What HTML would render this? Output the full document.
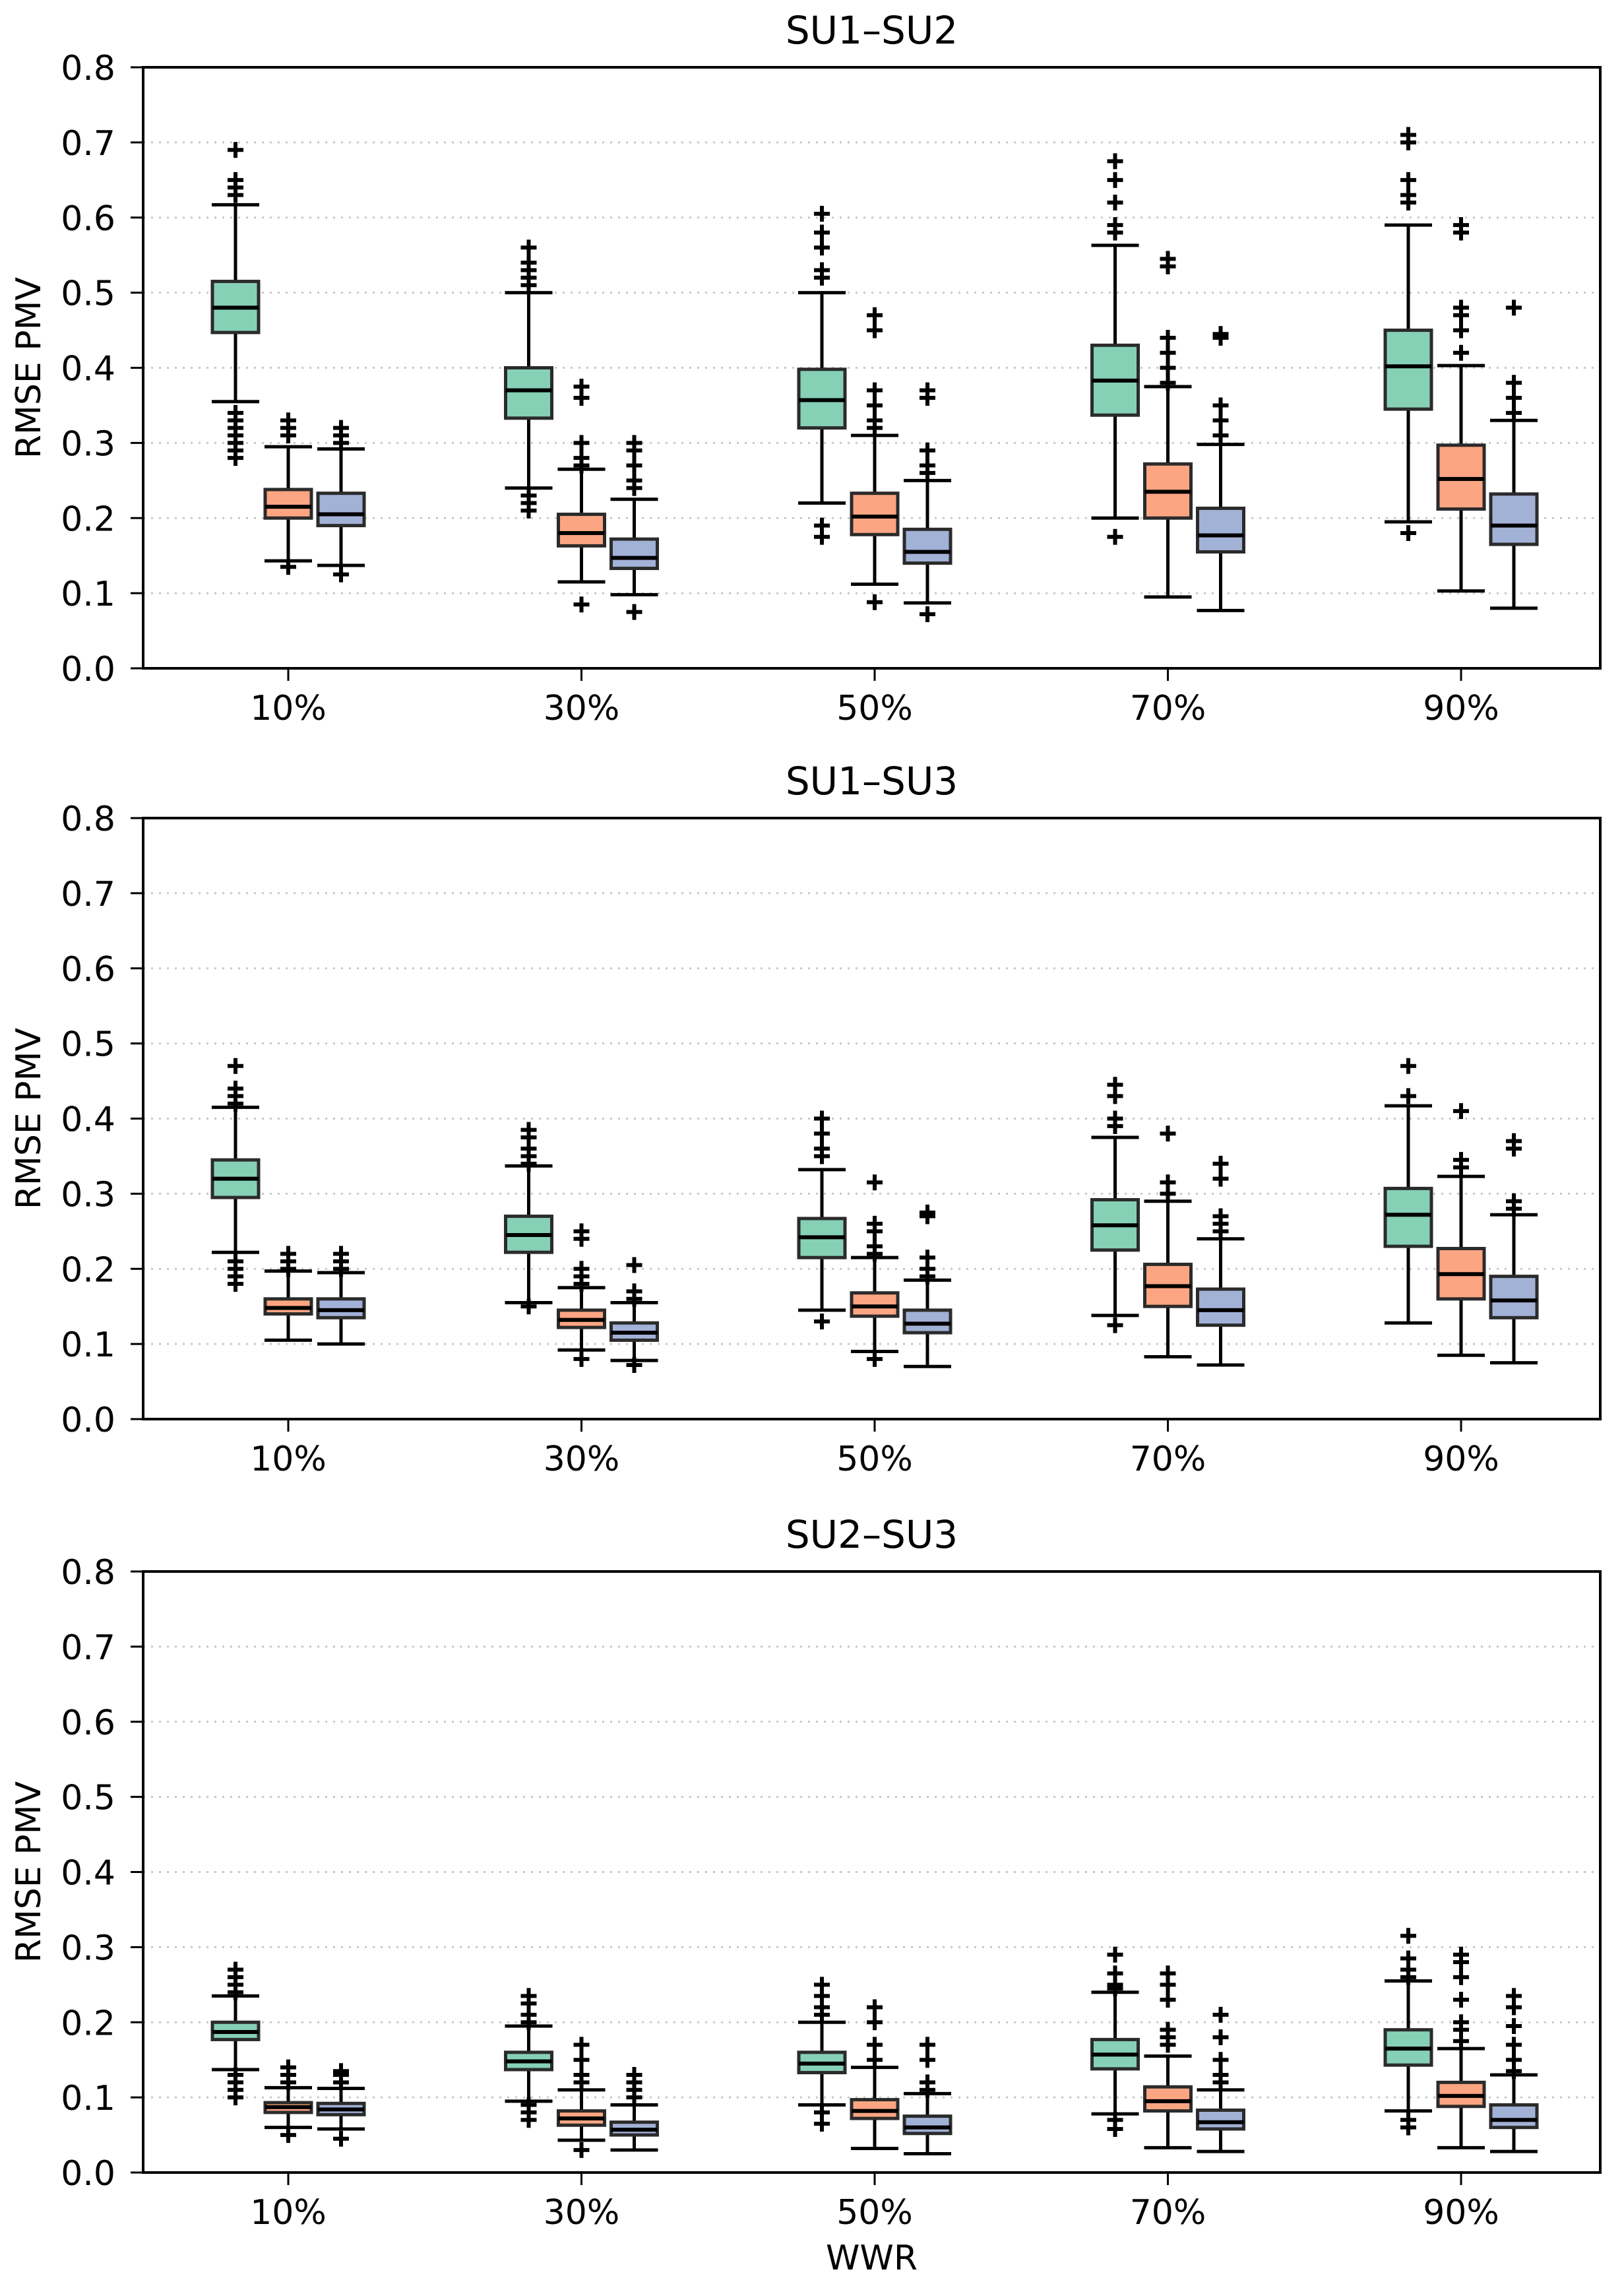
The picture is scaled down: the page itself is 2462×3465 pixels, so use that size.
<!DOCTYPE html>
<html><head><meta charset="utf-8"><style>
html,body{margin:0;padding:0;background:#fff;}
svg{display:block;font-family:"DejaVu Sans","Liberation Sans",sans-serif;}
</style></head><body>
<svg id="chart" width="2462" height="3465" viewBox="0 0 2462 3465" xmlns="http://www.w3.org/2000/svg"></svg>
<script>
const categories = ["10%","30%","50%","70%","90%"];
const titles = ["SU1–SU2","SU1–SU3","SU2–SU3"];
const yTicks = [0,0.1,0.2,0.3,0.4,0.5,0.6,0.7,0.8];
const yTickLabels = ["0.0","0.1","0.2","0.3","0.4","0.5","0.6","0.7","0.8"];
// each box: [whiskerLow, q1, median, q3, whiskerHigh]
const p1Green = [[.355,.447,.48,.515,.617],[.24,.333,.37,.40,.50],[.22,.32,.357,.398,.50],[.20,.337,.383,.43,.563],[.195,.345,.402,.45,.59]];
const p1Orange = [[.143,.20,.215,.238,.295],[.115,.163,.18,.205,.265],[.112,.178,.202,.233,.31],[.095,.20,.235,.272,.375],[.103,.212,.252,.297,.403]];
const p1Blue = [[.137,.19,.205,.233,.292],[.098,.133,.147,.172,.225],[.087,.14,.155,.185,.25],[.077,.155,.177,.213,.298],[.08,.165,.19,.232,.33]];
const p1GreenFliers = [[.64,.65,.63,.69,.34,.33,.32,.31,.30,.29,.28],[.51,.52,.53,.54,.56,.23,.22,.21],[.52,.53,.56,.58,.605,.19,.175],[.58,.59,.62,.65,.675,.175],[.62,.63,.65,.70,.71,.18]];
const p1OrangeFliers = [[.31,.32,.33,.135],[.27,.28,.30,.36,.375,.085],[.32,.33,.35,.37,.45,.47,.088],[.38,.40,.42,.44,.535,.545],[.42,.45,.47,.48,.58,.59]];
const p1BlueFliers = [[.30,.31,.32,.125],[.24,.25,.27,.29,.30,.075],[.26,.27,.29,.36,.37,.072],[.31,.33,.35,.44,.445],[.34,.36,.38,.48]];
const p2Green = [[.222,.295,.32,.345,.415],[.155,.222,.245,.27,.337],[.145,.215,.242,.267,.332],[.138,.225,.258,.292,.375],[.128,.23,.272,.307,.417]];
const p2Orange = [[.105,.14,.148,.16,.197],[.092,.122,.132,.145,.175],[.09,.137,.15,.168,.215],[.083,.15,.177,.206,.29],[.085,.16,.193,.227,.323]];
const p2Blue = [[.10,.135,.145,.16,.195],[.078,.105,.115,.128,.155],[.07,.115,.127,.145,.185],[.072,.125,.145,.173,.24],[.075,.135,.158,.19,.272]];
const p2GreenFliers = [[.42,.43,.44,.47,.21,.20,.19,.18],[.34,.35,.36,.375,.385,.15],[.35,.36,.38,.40,.13],[.39,.40,.43,.445,.125],[.43,.47]];
const p2OrangeFliers = [[.20,.21,.22],[.18,.19,.20,.24,.25,.08],[.22,.23,.25,.26,.315,.08],[.30,.315,.38],[.335,.345,.41]];
const p2BlueFliers = [[.20,.21,.22],[.16,.17,.205,.072],[.19,.20,.215,.27,.275],[.25,.26,.27,.32,.34],[.28,.29,.36,.37]];
const p3Green = [[.137,.177,.187,.20,.235],[.095,.137,.148,.16,.195],[.09,.133,.145,.16,.20],[.078,.138,.157,.177,.24],[.082,.143,.165,.19,.255]];
const p3Orange = [[.06,.08,.087,.093,.113],[.043,.063,.072,.082,.11],[.032,.072,.082,.097,.14],[.033,.082,.095,.114,.155],[.033,.088,.102,.12,.165]];
const p3Blue = [[.058,.077,.084,.092,.112],[.03,.05,.057,.067,.09],[.025,.052,.06,.075,.105],[.028,.058,.067,.083,.11],[.028,.06,.07,.09,.13]];
const p3GreenFliers = [[.24,.25,.26,.27,.13,.12,.11,.10],[.20,.21,.225,.235,.09,.08,.07],[.21,.22,.235,.25,.08,.065],[.245,.25,.265,.29,.07,.058],[.26,.27,.285,.315,.07,.06]];
const p3OrangeFliers = [[.12,.13,.14,.05],[.12,.13,.15,.17,.03],[.15,.17,.20,.22],[.17,.18,.19,.23,.25,.265],[.175,.19,.20,.23,.26,.28,.29]];
const p3BlueFliers = [[.12,.13,.135,.045],[.10,.11,.12,.13],[.11,.12,.15,.17],[.12,.13,.15,.18,.21],[.135,.15,.17,.195,.22,.235]];

const panels = [
  {boxes:[p1Green,p1Orange,p1Blue], fliers:[p1GreenFliers,p1OrangeFliers,p1BlueFliers]},
  {boxes:[p2Green,p2Orange,p2Blue], fliers:[p2GreenFliers,p2OrangeFliers,p2BlueFliers]},
  {boxes:[p3Green,p3Orange,p3Blue], fliers:[p3GreenFliers,p3OrangeFliers,p3BlueFliers]}
];
const seriesNames = ["green","orange","blue"];
const colors = ["#86d0b6","#fca582","#a2b1d6"];
const L=217, R=2426, PH=911, tops=[102,1240,2382], YMAX=0.8;
const NS="http://www.w3.org/2000/svg";
const svg=document.getElementById('chart');
function mk(tag, attrs, parent){const e=document.createElementNS(NS,tag);for(const k in attrs)e.setAttribute(k,attrs[k]);(parent||svg).appendChild(e);return e;}
function xScale(i){return 437+i*444.5;}
const offsets=[-80,0,80], BW=70, CAP=36;

panels.forEach((p,pi)=>{
  const top=tops[pi], bot=top+PH;
  const y=v=>bot-v/YMAX*PH;
  const g=mk('g',{});
  
  
  yTicks.forEach((t,ti)=>{
    if(ti>0&&ti<yTicks.length-1){
      const gl=mk('line',{x1:L,x2:R,y1:y(t),y2:y(t),stroke:'#c8c8c8','stroke-width':3,'stroke-dasharray':'3 9'},g);
      
      
    }
    const tk=mk('line',{x1:L-19,x2:L,y1:y(t),y2:y(t),stroke:'#000','stroke-width':3},g);
    
    
    const tl=mk('text',{x:175,y:y(t)+19,'text-anchor':'end','font-size':52,fill:'#000'},g);
    tl.textContent=yTickLabels[ti];
    
    
  });
  categories.forEach((c,ci)=>{
    const cx=xScale(ci);
    const tk=mk('line',{x1:cx,x2:cx,y1:bot,y2:bot+19,stroke:'#000','stroke-width':3},g);
    
    
    const tl=mk('text',{x:cx,y:bot+78,'text-anchor':'middle','font-size':52,fill:'#000'},g);
    tl.textContent=c;
    
    
    p.boxes.forEach((ser,si)=>{
      const b=ser[ci], x=cx+offsets[si];
      const bg=mk('g',{},g);
      
      
      mk('line',{x1:x,x2:x,y1:y(b[0]),y2:y(b[1]),stroke:'#000','stroke-width':5},bg);
      mk('line',{x1:x,x2:x,y1:y(b[3]),y2:y(b[4]),stroke:'#000','stroke-width':5},bg);
      mk('line',{x1:x-CAP,x2:x+CAP,y1:y(b[0]),y2:y(b[0]),stroke:'#000','stroke-width':5},bg);
      mk('line',{x1:x-CAP,x2:x+CAP,y1:y(b[4]),y2:y(b[4]),stroke:'#000','stroke-width':5},bg);
      mk('rect',{x:x-BW/2,y:y(b[3]),width:BW,height:y(b[1])-y(b[3]),fill:colors[si],stroke:'#2b2b2b','stroke-width':5},bg);
      mk('line',{x1:x-BW/2,x2:x+BW/2,y1:y(b[2]),y2:y(b[2]),stroke:'#000','stroke-width':6},bg);
      p.fliers[si][ci].forEach(v=>{
        const fy=y(v);
        const f=mk('path',{d:`M${x-12},${fy}H${x+12}M${x},${fy-12}V${fy+12}`,stroke:'#000','stroke-width':6,fill:'none'},bg);
        
        
      });
    });
  });
  const fr=mk('rect',{x:L,y:top,width:R-L,height:PH,fill:'none',stroke:'#000','stroke-width':4},g);
  
  
  const tt=mk('text',{x:(L+R)/2,y:top-36,'text-anchor':'middle','font-size':58,fill:'#000'},g);
  tt.textContent=titles[pi];
  
  
  const yl=mk('text',{x:0,y:0,'text-anchor':'middle','font-size':52,fill:'#000',transform:`translate(61,${top+PH/2}) rotate(-90)`},g);
  yl.textContent='RMSE PMV';
  
  
});
const xl=mk('text',{x:(L+R)/2,y:3440,'text-anchor':'middle','font-size':52,fill:'#000'});
xl.textContent='WWR';


</script>
</body></html>
